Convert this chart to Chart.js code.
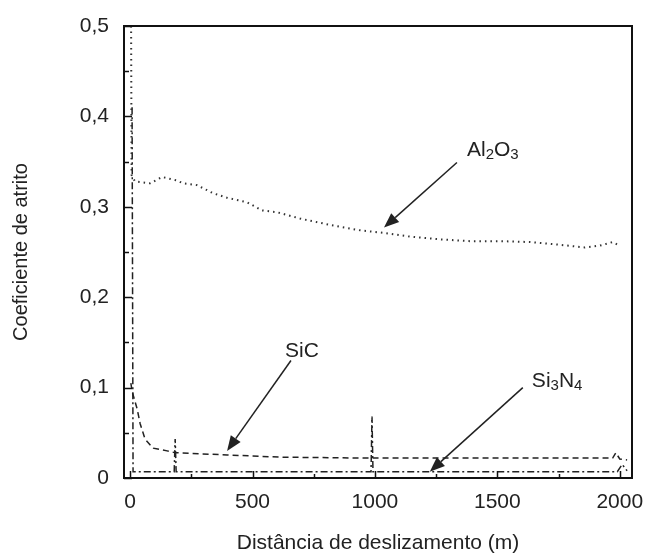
<!DOCTYPE html>
<html>
<head>
<meta charset="UTF-8">
<script src="https://cdn.jsdelivr.net/npm/chart.js"></script>
<style>
  body { margin: 0; background: #fff; }
  .chartBox { width: 648px; height: 554px; }
</style>
</head>
<body>
<div class="chartBox"><canvas id="myChart"></canvas></div>
<script>
// Al2O3 (dotted)
const alDist = [4, 6, 20, 82, 131, 192, 216, 273, 339, 396, 478, 539, 600, 694, 816, 939, 1041, 1143, 1265, 1388, 1510, 1633, 1755, 1857, 1918, 1971, 2000];
const alCoef = [0.50, 0.335, 0.328, 0.326, 0.333, 0.329, 0.326, 0.324, 0.315, 0.310, 0.305, 0.296, 0.294, 0.287, 0.280, 0.274, 0.271, 0.267, 0.264, 0.262, 0.262, 0.261, 0.258, 0.255, 0.257, 0.261, 0.257];

// SiC (dashed)
const sicDist = [3, 8, 29, 41, 61, 94, 151, 184, 396, 624, 980, 1971, 1984, 2000, 2030];
const sicCoef = [0.105, 0.096, 0.076, 0.060, 0.043, 0.033, 0.030, 0.028, 0.0255, 0.023, 0.022, 0.022, 0.028, 0.021, 0.020];

// Si3N4 (dash-dot)
const sinDist = [8, 12, 180, 184, 188, 984, 988, 992, 1990, 2010, 2030];
const sinCoef = [0.41, 0.007, 0.007, 0.043, 0.007, 0.007, 0.068, 0.007, 0.007, 0.015, 0.008];

const xTicks = [0, 500, 1000, 1500, 2000];
const yTicks = [0, 0.1, 0.2, 0.3, 0.4, 0.5];

// annotations: label parts, text position, arrow from / to, in data units
const notes = [
  { parts: [['Al', 0], ['2', 1], ['O', 0], ['3', 1]], x: 1376, y: 0.356, from: [1335, 0.349], to: [1037, 0.277] },
  { parts: [['SiC', 0]], x: 633, y: 0.134, from: [657, 0.130], to: [396, 0.030] },
  { parts: [['Si', 0], ['3', 1], ['N', 0], ['4', 1]], x: 1641, y: 0.101, from: [1604, 0.100], to: [1224, 0.007] }
];

function pts(xs, ys) { return xs.map((x, i) => ({ x: x, y: ys[i] })); }

const FONT = "'Liberation Sans', Arial, sans-serif";

const frame = {
  id: 'frame',
  afterDraw(chart) {
    const { ctx, chartArea: a, scales: { x, y } } = chart;
    ctx.save();
    ctx.strokeStyle = '#111';
    ctx.lineWidth = 2;
    ctx.strokeRect(a.left, a.top, a.right - a.left, a.bottom - a.top);
    ctx.lineWidth = 1.5;
    ctx.beginPath();
    for (let v = 0; v <= 0.5001; v += 0.05) {
      const py = Math.round(y.getPixelForValue(v)) + 0.5;
      const len = Math.abs((v * 10) - Math.round(v * 10)) < 1e-6 ? 8 : 5;
      ctx.moveTo(a.left, py); ctx.lineTo(a.left + len, py);
    }
    for (let v = 0; v <= 2000; v += 250) {
      const px = Math.round(x.getPixelForValue(v)) + 0.5;
      const len = v % 500 === 0 ? 7 : 4;
      ctx.moveTo(px, a.bottom); ctx.lineTo(px, a.bottom - len);
    }
    ctx.stroke();

    // labels and arrows
    ctx.fillStyle = '#222';
    ctx.strokeStyle = '#222';
    ctx.textBaseline = 'alphabetic';
    notes.forEach(n => {
      let tx = x.getPixelForValue(n.x);
      const ty = y.getPixelForValue(n.y);
      n.parts.forEach(([t, sub]) => {
        ctx.font = (sub ? '15px ' : '21px ') + FONT;
        ctx.fillText(t, tx, ty + (sub ? 3 : 0));
        tx += ctx.measureText(t).width;
      });
      const x0 = x.getPixelForValue(n.from[0]), y0 = y.getPixelForValue(n.from[1]);
      const x1 = x.getPixelForValue(n.to[0]), y1 = y.getPixelForValue(n.to[1]);
      const ang = Math.atan2(y1 - y0, x1 - x0);
      const hl = 15, hw = 6;
      const bx = x1 - hl * Math.cos(ang), by = y1 - hl * Math.sin(ang);
      ctx.lineWidth = 1.5;
      ctx.beginPath(); ctx.moveTo(x0, y0); ctx.lineTo(bx, by); ctx.stroke();
      ctx.beginPath();
      ctx.moveTo(x1, y1);
      ctx.lineTo(bx + hw * Math.sin(ang), by - hw * Math.cos(ang));
      ctx.lineTo(bx - hw * Math.sin(ang), by + hw * Math.cos(ang));
      ctx.closePath(); ctx.fill();
    });
    ctx.restore();
  }
};

new Chart(document.getElementById('myChart'), {
  type: 'line',
  data: {
    datasets: [
      { label: 'Al2O3', data: pts(alDist, alCoef), borderColor: '#333', borderWidth: 2, borderDash: [1.5, 4] },
      { label: 'SiC', data: pts(sicDist, sicCoef), borderColor: '#222', borderWidth: 1.5, borderDash: [6, 4] },
      { label: 'Si3N4', data: pts(sinDist, sinCoef), borderColor: '#222', borderWidth: 1.5, borderDash: [7, 3, 2, 3] }
    ]
  },
  options: {
    responsive: true,
    maintainAspectRatio: false,
    animation: false,
    devicePixelRatio: 1,
    layout: { padding: { top: 26, right: 16, bottom: 0, left: 0 } },
    elements: { point: { radius: 0 }, line: { tension: 0, fill: false } },
    plugins: { legend: { display: false }, tooltip: { enabled: false } },
    scales: {
      x: {
        type: 'linear', min: -25, max: 2050,
        grid: { display: false, drawTicks: false },
        border: { display: false },
        afterBuildTicks: s => { s.ticks = xTicks.map(v => ({ value: v })); },
        ticks: { padding: 12, color: '#222', font: { size: 21, family: FONT }, maxRotation: 0, autoSkip: false,
          callback: v => String(v) },
        title: { display: true, text: 'Distância de deslizamento (m)', color: '#222', font: { size: 21, family: FONT, lineHeight: 1 }, padding: 0 },
        afterFit: s => { s.height = 76; s.paddingLeft = 0; s.paddingRight = 0; }
      },
      y: {
        min: 0, max: 0.5,
        grid: { display: false, drawTicks: false },
        border: { display: false },
        afterBuildTicks: s => { s.ticks = yTicks.map(v => ({ value: v })); },
        ticks: {
          padding: 15, color: '#222', font: { size: 21, family: FONT }, autoSkip: false,
          callback: v => v === 0 ? '0' : v.toFixed(1).replace('.', ',')
        },
        title: { display: true, text: 'Coeficiente de atrito', color: '#222', font: { size: 20, family: FONT, lineHeight: 1 }, padding: { top: 11, bottom: 0 } },
        afterFit: s => { s.width = 124; s.paddingTop = 0; s.paddingBottom = 0; }
      }
    }
  },
  plugins: [frame]
});
</script>
</body>
</html>
